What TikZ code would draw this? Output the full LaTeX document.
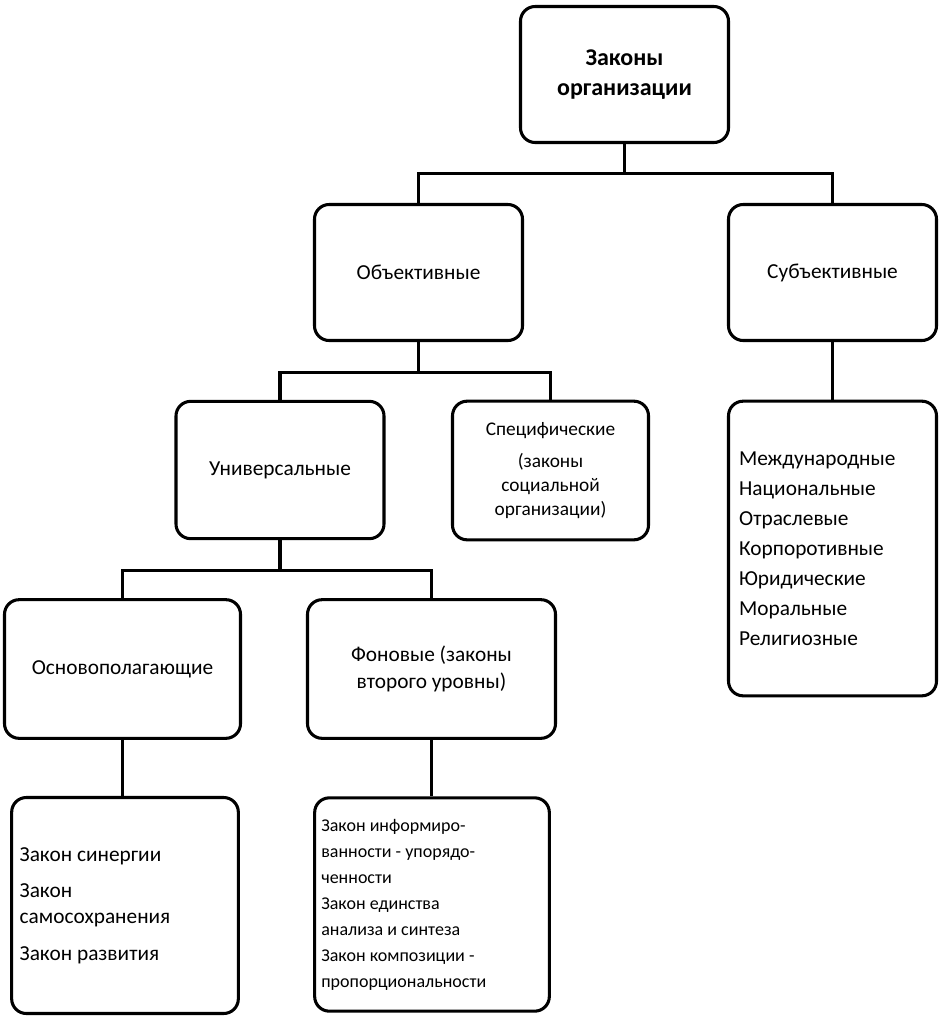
\documentclass[tikz,border=0pt]{standalone}
\usepackage{fontspec}
\setmainfont{Carlito}
\begin{document}
\begin{tikzpicture}[x=0.75pt,y=-0.75pt,
  box/.style={draw,line width=2.3pt,rounded corners=11pt,inner sep=0pt,align=center,font=\fontsize{16}{20}\selectfont},
  link/.style={line width=2.3pt}]
\useasboundingbox (0,0) rectangle (940,1021);
\node[box,minimum width=156pt,minimum height=102pt,font=\fontsize{18}{23}\selectfont\bfseries] (root) at (624.5,74.5) {Законы\\организации};
\node[box,minimum width=156pt,minimum height=102pt] (obj) at (418.5,272.5) {Объективные};
\node[box,minimum width=156pt,minimum height=102pt] (subj) at (832.5,272.5) {Субъективные};
\node[box,minimum width=156pt,minimum height=103pt] (univ) at (280,470) {Универсальные};
\node[box,minimum width=147pt,minimum height=104pt,font=\fontsize{14.5}{18}\selectfont] (spec) at (550.5,470.5) {Специфические\\[6pt](законы\\социальной\\организации)};
\node[box,minimum width=156pt,minimum height=221pt,text width=140pt,align=flush left,font=\fontsize{16}{22.5}\selectfont] (sublist) at (832.5,548.5) {Международные\\Национальные\\Отраслевые\\Корпоротивные\\Юридические\\Моральные\\Религиозные};
\node[box,minimum width=177pt,minimum height=104pt] (osn) at (122.5,669) {Основополагающие};
\node[box,minimum width=186pt,minimum height=104pt] (fon) at (431.5,669) {Фоновые (законы\\второго уровны)};
\node[box,minimum width=170pt,minimum height=162pt,text width=158pt,align=flush left,font=\fontsize{16}{19.5}\selectfont] (syn) at (125,905.5) {Закон синергии\\[8pt]Закон\\самосохранения\\[8pt]Закон развития};
\node[box,minimum width=176pt,minimum height=160pt,text width=166pt,align=flush left,font=\fontsize{13.5}{19.5}\selectfont] (inf) at (432,904.5) {Закон информиро-\\ванности - упорядо-\\ченности\\Закон единства\\анализа и синтеза\\Закон композиции -\\пропорциональности};
\draw[link] (root.south) -- ++(0,29) coordinate (r1);
\draw[link] (obj.north) |- (r1) -| (subj.north);
\draw[link] (obj.south) -- ++(0,30) coordinate (o1);
\draw[link] (univ.north) |- (o1) -| (spec.north);
\draw[link] (subj.south) -- (sublist.north);
\draw[link] (univ.south) -- ++(0,30) coordinate (u1);
\draw[link] (osn.north) |- (u1) -| (fon.north);
\draw[link] (osn.south) -- (osn.south |- syn.north);
\draw[link] (fon.south) -- (fon.south |- inf.north);
\end{tikzpicture}
\end{document}
